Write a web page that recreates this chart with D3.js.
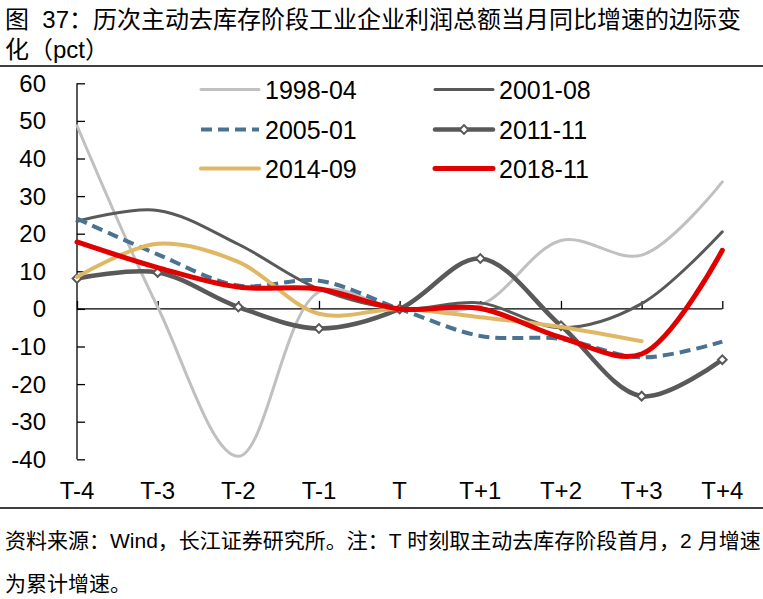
<!DOCTYPE html>
<html><head><meta charset="utf-8">
<script src="https://cdn.jsdelivr.net/npm/d3@7"></script>
<style>
html,body{margin:0;padding:0;background:#fff;}
svg{display:block;}
text{font-family:"Liberation Sans","Noto Sans CJK SC",Arial,sans-serif;fill:#000;}
</style></head>
<body>
<svg id="c" width="763" height="599"></svg>
<script>
const categories = ["T-4","T-3","T-2","T-1","T","T+1","T+2","T+3","T+4"];
const s1998 = [48.7, 0.5, -39.2, 4.5, 0, 1.0, 18.2, 14.3, 33.8];
const s2001 = [23.3, 26.2, 17.2, 5.3, 0, 1.6, -5.0, 1.4, 20.5];
const s2005 = [24.0, 14.5, 6.2, 7.5, 0, -7.2, -8.0, -12.9, -8.7];
const s2011 = [8.1, 9.7, 0.5, -5.2, 0, 13.4, -4.5, -23.2, -13.5];
const s2014 = [8.5, 17.3, 12.5, -1.3, 0, -2.2, -4.8, -8.6, null];
const s2018 = [17.8, 11.0, 5.8, 5.3, 0, 0.1, -7.6, -12.0, 15.6];
const seriesNames = ["1998-04","2001-08","2005-01","2011-11","2014-09","2018-11"];
const yTicks = [-40,-30,-20,-10,0,10,20,30,40,50,60];
const titleLines = ["图\u00a0\u00a037：历次主动去库存阶段工业企业利润总额当月同比增速的边际变","化（pct）"];
const footLines = ["资料来源：Wind，长江证券研究所。注：T 时刻取主动去库存阶段首月，2 月增速","为累计增速。"];

const styles = [
  {color:"#c0c0c0", width:3, dash:null, marker:false},
  {color:"#595959", width:3, dash:null, marker:false},
  {color:"#4a7391", width:4, dash:"11,6", marker:false},
  {color:"#595959", width:4.5, dash:null, marker:true},
  {color:"#e0b865", width:4, dash:null, marker:false},
  {color:"#e00000", width:5, dash:null, marker:false}
];
const allSeries = [s1998,s2001,s2005,s2011,s2014,s2018];

const svg = d3.select("#c");
const x = d3.scalePoint().domain(categories).range([77, 722.3]);
const y = d3.scaleLinear().domain([-40,60]).range([459.3, 83.3]);

// title
svg.selectAll("text.title").data(titleLines).join("text")
  .attr("class","title").attr("x",5).attr("y",(d,i)=>28+i*30)
  .style("font-size","24px").text(d=>d);
svg.append("line").attr("x1",0).attr("x2",763).attr("y1",66).attr("y2",66)
  .attr("stroke","#000").attr("stroke-width",1.5);

// axes
const yAxis = d3.axisRight(y).tickValues(yTicks).tickSize(8).tickFormat("");
const gy = svg.append("g").attr("transform","translate(77,0)").call(yAxis);
gy.select(".domain").attr("d",`M0,${y(-40)}V${y(60)}`).attr("stroke","#000").attr("stroke-width",1.3);
gy.selectAll(".tick line").attr("stroke","#000").attr("stroke-width",1.3);
svg.selectAll("text.ytl").data(yTicks).join("text").attr("class","ytl")
  .attr("x",46).attr("y",d=>y(d)+8.5).attr("text-anchor","end")
  .style("font-size","24px").text(d=>d);

const xAxis = d3.axisTop(x).tickSize(8).tickFormat("");
const gx = svg.append("g").attr("transform",`translate(0,${y(0)})`).call(xAxis);
gx.select(".domain").attr("d",`M${x("T-4")},0H${x("T+4")}`).attr("stroke","#000").attr("stroke-width",1.3);
gx.selectAll(".tick line").attr("stroke","#000").attr("stroke-width",1.3);
svg.selectAll("text.xtl").data(categories).join("text").attr("class","xtl")
  .attr("x",d=>x(d)).attr("y",499).attr("text-anchor","middle")
  .style("font-size","24px").text(d=>d);

// lines
const line = d3.line()
  .defined(d=>d.v!==null)
  .x(d=>x(d.c)).y(d=>y(d.v))
  .curve(d3.curveCatmullRom.alpha(0.5));

allSeries.forEach((s,i)=>{
  const pts = categories.map((c,j)=>({c:c,v:s[j]})).filter(d=>d.v!==null);
  const st = styles[i];
  const p = svg.append("path").datum(pts).attr("d",line)
    .attr("fill","none").attr("stroke",st.color).attr("stroke-width",st.width)
    .attr("stroke-linecap","round").attr("stroke-linejoin","round");
  if(st.dash) p.attr("stroke-dasharray",st.dash).attr("stroke-linecap","butt");
  if(st.marker){
    svg.selectAll(null).data(pts).join("path")
      .attr("d",d3.symbol(d3.symbolSquare,38)())
      .attr("transform",d=>`translate(${x(d.c)},${y(d.v)}) rotate(45)`)
      .attr("fill","#fff").attr("stroke",st.color).attr("stroke-width",2);
  }
});

// legend
const legX = [201, 435];
const legY = [89.5, 129.5, 168.5];
seriesNames.forEach((n,i)=>{
  const col = i%2, row = Math.floor(i/2);
  const st = styles[i];
  const lx = legX[col], ly = legY[row];
  const l = svg.append("line").attr("x1",lx).attr("x2",lx+58).attr("y1",ly).attr("y2",ly)
    .attr("stroke",st.color).attr("stroke-width",st.width).attr("stroke-linecap","round");
  if(st.dash) l.attr("stroke-dasharray",st.dash).attr("stroke-linecap","butt");
  if(st.marker){
    svg.append("path").attr("d",d3.symbol(d3.symbolSquare,38)())
      .attr("transform",`translate(${lx+29},${ly}) rotate(45)`)
      .attr("fill","#fff").attr("stroke",st.color).attr("stroke-width",2);
  }
  svg.append("text").attr("x",lx+64).attr("y",ly+9).style("font-size","25px").text(n);
});

// footer
svg.append("line").attr("x1",0).attr("x2",763).attr("y1",508).attr("y2",508)
  .attr("stroke","#000").attr("stroke-width",1.5);
svg.selectAll("text.foot").data(footLines).join("text").attr("class","foot")
  .attr("x",5).attr("y",(d,i)=>548+i*43).style("font-size","21px").text(d=>d);
</script>
</body></html>
